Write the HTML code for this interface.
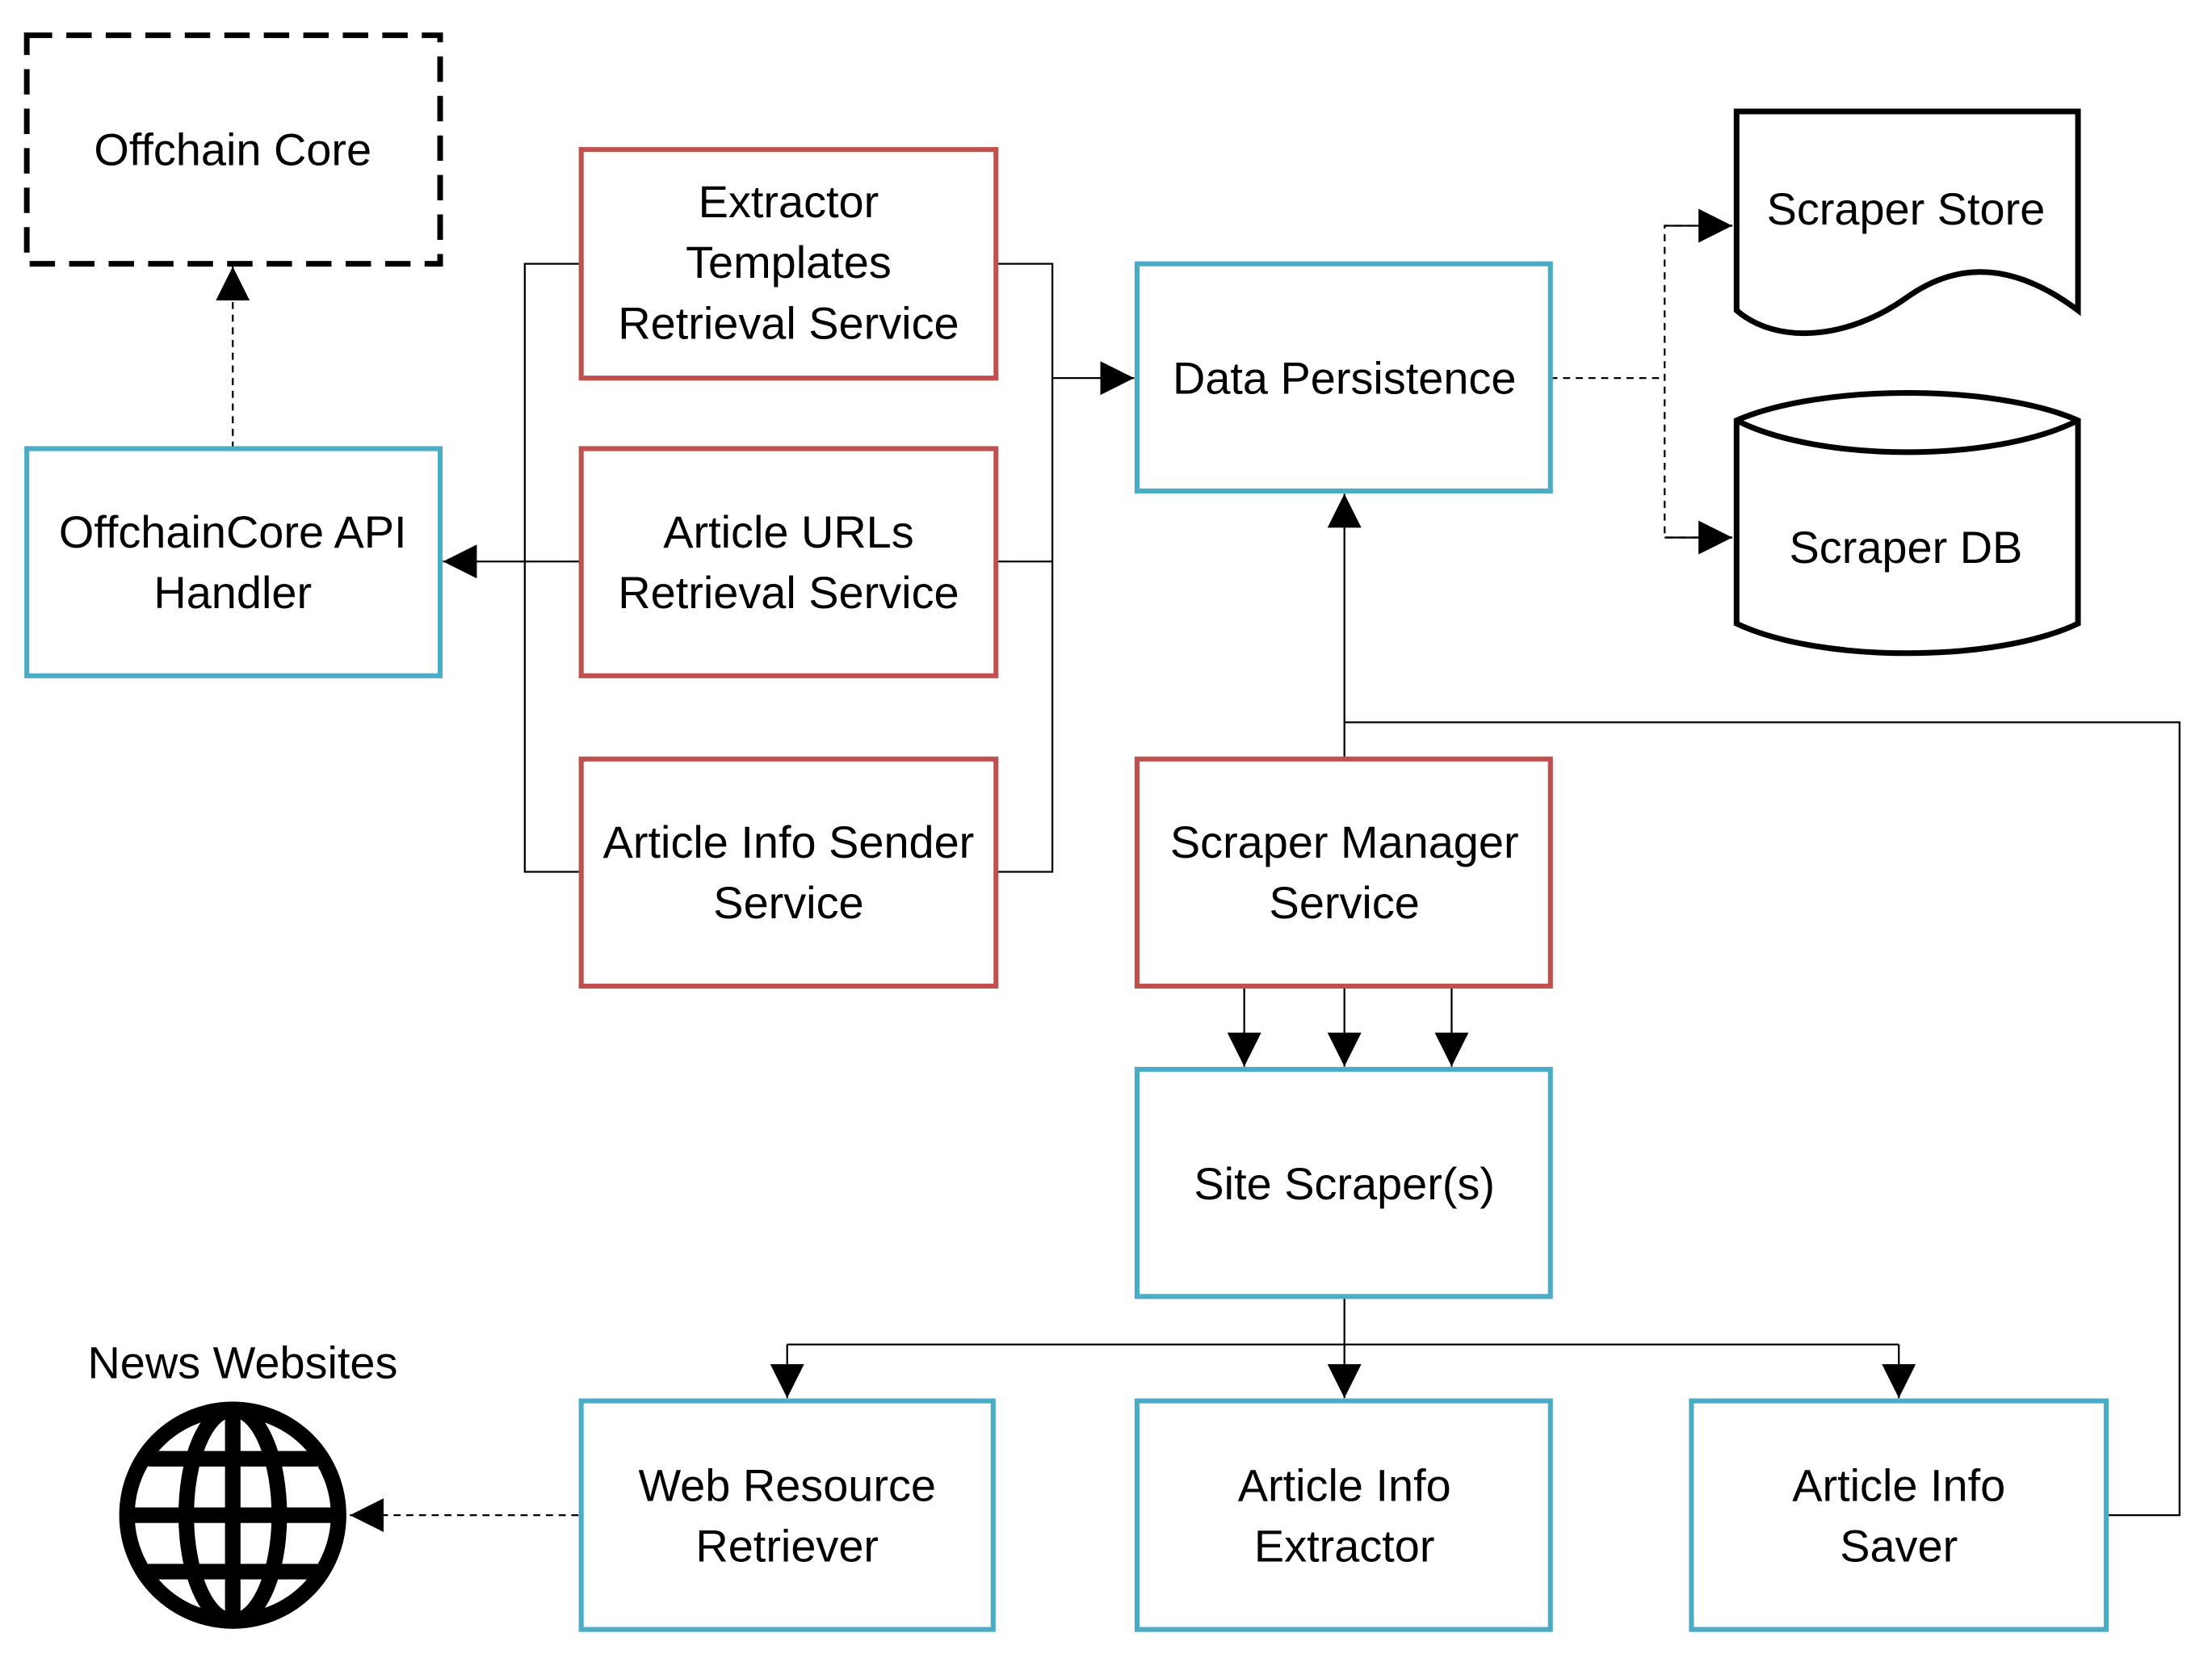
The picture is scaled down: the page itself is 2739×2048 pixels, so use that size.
<!DOCTYPE html>
<html><head><meta charset="utf-8"><style>html,body{margin:0;padding:0;background:#fff}svg{display:block}</style></head>
<body>
<svg width="2739" height="2048" viewBox="0 0 1568 1172.4" xmlns="http://www.w3.org/2000/svg" font-family="Liberation Sans, sans-serif" font-size="32" text-anchor="middle">
<defs>
<marker id="a" viewBox="0 0 10 10" refX="10" refY="5" markerWidth="24" markerHeight="24" markerUnits="userSpaceOnUse" orient="auto"><path d="M0,0 L10,5 L0,10 z" fill="#000"/></marker>
</defs>
<rect width="1568" height="1172.4" fill="#fff"/>
<g fill="none" stroke="#000" stroke-width="1.3">
<line x1="165" y1="318" x2="165" y2="189" stroke-dasharray="5,4" marker-end="url(#a)"/>
<polyline points="412,187 372,187 372,618 412,618"/>
<line x1="412" y1="398" x2="314" y2="398" marker-end="url(#a)"/>
<polyline points="706,187 746,187 746,618 706,618"/>
<line x1="706" y1="398" x2="746" y2="398"/>
<line x1="746" y1="268" x2="804" y2="268" marker-end="url(#a)"/>
<g stroke-dasharray="5,4">
<line x1="1099" y1="268" x2="1180" y2="268"/>
<polyline points="1228,160 1180,160 1180,381 1228,381"/>
</g>
<line x1="1180" y1="160" x2="1228" y2="160" marker-end="url(#a)"/>
<line x1="1180" y1="381" x2="1228" y2="381" marker-end="url(#a)"/>
<line x1="953" y1="538" x2="953" y2="350" marker-end="url(#a)"/>
<polyline points="953,512 1545,512 1545,1074 1493,1074"/>
<line x1="882" y1="699" x2="882" y2="756" marker-end="url(#a)"/>
<line x1="953" y1="699" x2="953" y2="756" marker-end="url(#a)"/>
<line x1="1029" y1="699" x2="1029" y2="756" marker-end="url(#a)"/>
<line x1="953" y1="919" x2="953" y2="953"/>
<line x1="558" y1="953" x2="1346" y2="953"/>
<line x1="558" y1="953" x2="558" y2="991" marker-end="url(#a)"/>
<line x1="953" y1="953" x2="953" y2="991" marker-end="url(#a)"/>
<line x1="1346" y1="953" x2="1346" y2="991" marker-end="url(#a)"/>
<line x1="410" y1="1074" x2="250" y2="1074" stroke-dasharray="5,4"/>
<line x1="270" y1="1074" x2="248" y2="1074" marker-end="url(#a)"/>
</g>
<rect x="19" y="25" width="293" height="162" fill="#fff" stroke="#000" stroke-width="4" stroke-dasharray="18,10"/>
<g fill="#fff" stroke="#4bacc6" stroke-width="3.5">
<rect x="19" y="318" width="293" height="161"/>
<rect x="806" y="187" width="293" height="161"/>
<rect x="806" y="758" width="293" height="161"/>
<rect x="412" y="993" width="292" height="162"/>
<rect x="806" y="993" width="293" height="162"/>
<rect x="1199" y="993" width="294" height="162"/>
</g>
<g fill="#fff" stroke="#c0504d" stroke-width="3.5">
<rect x="412" y="106" width="294" height="162"/>
<rect x="412" y="318" width="294" height="161"/>
<rect x="412" y="538" width="294" height="161"/>
<rect x="806" y="538" width="293" height="161"/>
</g>
<path d="M1231,79 L1473,79 L1473,220 C1420,180 1380,190 1350,212 C1310,240 1260,245 1231,220 Z" fill="#fff" stroke="#000" stroke-width="4"/>
<path d="M1231,298 C1290,272 1414,272 1473,298 L1473,442 C1414,470 1290,470 1231,442 Z" fill="#fff" stroke="#000" stroke-width="4"/>
<path d="M1231,298 C1290,328 1414,328 1473,298" fill="none" stroke="#000" stroke-width="4"/>
<g fill="none" stroke="#000" stroke-width="11">
<circle cx="165" cy="1074" r="75"/>
<ellipse cx="165" cy="1074" rx="33" ry="75"/>
<line x1="165" y1="999" x2="165" y2="1149"/>
<line x1="90" y1="1074" x2="240" y2="1074"/>
<line x1="105" y1="1034" x2="225" y2="1034"/>
<line x1="105" y1="1114" x2="225" y2="1114"/>
</g>
<g fill="#000">
<text x="165" y="117">Offchain Core</text>
<text x="165" y="388">OffchainCore API</text><text x="165" y="431">Handler</text>
<text x="559" y="154">Extractor</text><text x="559" y="197">Templates</text><text x="559" y="240">Retrieval Service</text>
<text x="559" y="388">Article URLs</text><text x="559" y="431">Retrieval Service</text>
<text x="559" y="608">Article Info Sender</text><text x="559" y="651">Service</text>
<text x="953" y="279">Data Persistence</text>
<text x="1351" y="159">Scraper Store</text>
<text x="1351" y="399">Scraper DB</text>
<text x="953" y="608">Scraper Manager</text><text x="953" y="651">Service</text>
<text x="953" y="850">Site Scraper(s)</text>
<text x="558" y="1064">Web Resource</text><text x="558" y="1107">Retriever</text>
<text x="953" y="1064">Article Info</text><text x="953" y="1107">Extractor</text>
<text x="1346" y="1064">Article Info</text><text x="1346" y="1107">Saver</text>
<text x="172" y="977">News Websites</text>
</g>
</svg>
</body></html>
